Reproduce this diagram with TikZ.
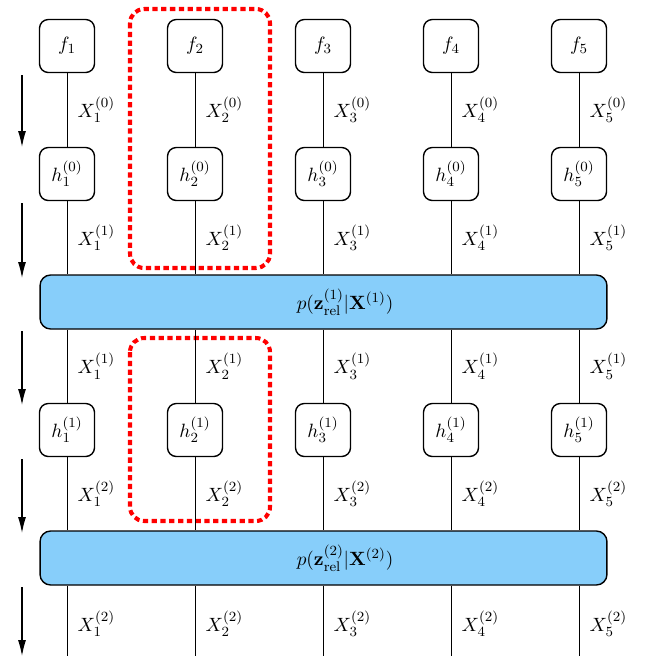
\documentclass[tikz,border=0pt]{standalone}
\usetikzlibrary{arrows.meta}
\definecolor{boxblue}{RGB}{135,206,250}
\tikzset{
  every node/.style={font=\fontsize{11}{13}\selectfont},
  fbox/.style={draw=black, line width=0.8pt, rounded corners=5pt, fill=white, minimum width=1.1cm, minimum height=1.06cm, inner sep=1pt},
  relbox/.style={draw=black, line width=0.8pt, rounded corners=6pt, fill=boxblue, minimum width=11.34cm, minimum height=1.08cm},
  wire/.style={draw=black, line width=0.5pt},
  lab/.style={right, xshift=2.5pt},
  stepline/.style={draw=black, line width=0.6pt, -{Latex[length=9pt,width=4.5pt]}},
  grp/.style={draw=red, line width=2.3pt, dash pattern=on 3pt off 2pt, rounded corners=8pt}
}
\begin{document}
\begin{tikzpicture}[x=0.02cm,y=-0.02cm]
\useasboundingbox (0,0) rectangle (648,656);
% red groups (behind)
\draw[grp] (130,9) rectangle (270,268);
\draw[grp] (130,338) rectangle (270,521);
% blue boxes
\node[relbox] (r1) at (323.5,302) {};
\node[relbox] (r2) at (323.5,558) {};
\node (t1) at (345,302) {$p(\mathbf{z}^{(1)}_{\mathrm{rel}}|\mathbf{X}^{(1)})$};
\node (t2) at (345,558) {$p(\mathbf{z}^{(2)}_{\mathrm{rel}}|\mathbf{X}^{(2)})$};
\foreach \i in {1,...,5} {
  \pgfmathsetmacro{\xx}{67+128*(\i-1)}
  \node[fbox] (f\i) at (\xx,46) {$f_{\i}$};
  \node[fbox] (ha\i) at (\xx,174) {$h^{(0)}_{\i}$};
  \node[fbox] (hb\i) at (\xx,430) {$h^{(1)}_{\i}$};
  \coordinate (e\i) at (\xx,670);
  \draw[wire] (f\i) -- node[lab] {$X^{(0)}_{\i}$} (ha\i);
  \draw[wire] (ha\i) -- node[lab] {$X^{(1)}_{\i}$} (ha\i |- r1.north);
  \draw[wire] (hb\i |- r1.south) -- node[lab] {$X^{(1)}_{\i}$} (hb\i);
  \draw[wire] (hb\i) -- node[lab] {$X^{(2)}_{\i}$} (hb\i |- r2.north);
  \draw[wire] (e\i |- r2.south) -- node[lab, pos=0.45] {$X^{(2)}_{\i}$} (e\i);
}
% direction arrows
\coordinate (a1s) at (22,75);  \coordinate (a1e) at (22,147);
\coordinate (a2s) at (22,203); \coordinate (a2e) at (22,278);
\coordinate (a3s) at (22,331); \coordinate (a3e) at (22,405);
\coordinate (a4s) at (22,459); \coordinate (a4e) at (22,533);
\coordinate (a5s) at (22,587); \coordinate (a5e) at (22,656);
\foreach \k in {1,...,5} { \draw[stepline] (a\k s) -- (a\k e); }
\end{tikzpicture}
\end{document}
